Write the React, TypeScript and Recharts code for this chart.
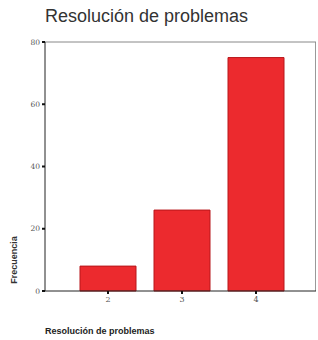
import React from 'react';
import { BarChart, Bar, XAxis, YAxis, ReferenceLine } from 'recharts';

const categories = ['2', '3', '4'];
const frecuencias = [8, 26, 75];
const yTicks = [0, 20, 40, 60, 80];

const data = categories.map((c, i) => ({ name: c, frecuencia: frecuencias[i] }));

const W = 318;
const H = 340;
const M = { top: 42, right: 2, left: 0, bottom: 29 };
const Y_AXIS_W = 45;
const X_AXIS_H = 20;

export default function App() {
  return (
    <div style={{ position: 'relative', width: W, height: H, background: '#fff', fontFamily: 'Liberation Sans, Arial, sans-serif' }}>
      <style>{'body{margin:0}'}</style>
      <div style={{ position: 'absolute', left: 45, top: 6, fontSize: 18, color: '#333', whiteSpace: 'nowrap' }}>
        Resolución de problemas
      </div>
      <div
        style={{
          position: 'absolute',
          left: 14,
          top: 260,
          fontSize: 9,
          fontWeight: 'bold',
          color: '#333',
          whiteSpace: 'nowrap',
          transform: 'translate(-50%, -50%) rotate(-90deg)',
        }}
      >
        Frecuencia
      </div>
      <div style={{ position: 'absolute', left: 45, top: 326, fontSize: 9, fontWeight: 'bold', color: '#222', whiteSpace: 'nowrap' }}>
        Resolución de problemas
      </div>
      {/* marco derecho del área de gráfico */}
      <div
        style={{
          position: 'absolute',
          left: W - M.right - 1,
          top: M.top,
          width: 1,
          height: H - M.top - M.bottom - X_AXIS_H,
          background: '#999',
        }}
      />
      <BarChart width={W} height={H} data={data} margin={M}>
        <XAxis
          dataKey="name"
          height={X_AXIS_H}
          padding={{ left: 26, right: 23 }}
          axisLine={{ stroke: '#222', strokeWidth: 1 }}
          tickLine={{ stroke: '#111', strokeWidth: 2 }}
          tickSize={3}
          tick={{ fontSize: 8, fill: '#555', fontFamily: 'DejaVu Serif, serif' }}
        />
        <YAxis
          width={Y_AXIS_W}
          domain={[0, 80]}
          ticks={yTicks}
          axisLine={{ stroke: '#222', strokeWidth: 1 }}
          tickLine={{ stroke: '#111', strokeWidth: 2 }}
          tickSize={3}
          tick={{ fontSize: 7.5, fill: '#555', fontFamily: 'DejaVu Serif, serif' }}
        />
        <ReferenceLine y={80} stroke="#888" strokeWidth={1} />
        <Bar dataKey="frecuencia" fill="#ec2a2e" stroke="#b8161a" strokeWidth={1} barSize={56} isAnimationActive={false} />
      </BarChart>
    </div>
  );
}
